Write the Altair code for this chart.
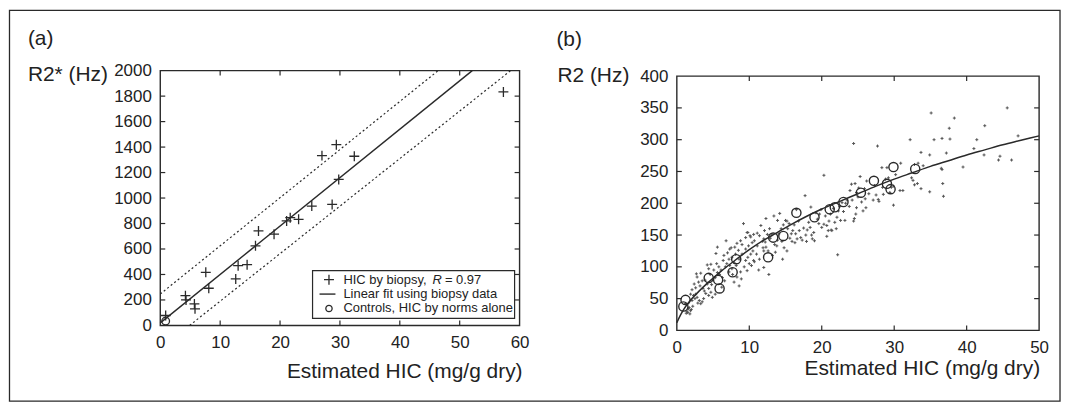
import altair as alt
import pandas as pd

# ---------------- Panel (a) data ----------------
a_biopsy_hic = [0.9, 4.2, 4.3, 5.7, 5.8, 7.6, 8.1, 12.6, 13.0, 14.5, 15.9, 16.4, 19.0,
                21.1, 21.7, 23.1, 25.3, 27.0, 28.7, 29.4, 29.8, 32.4, 57.3]
a_biopsy_r2s = [78, 234, 200, 169, 130, 417, 292, 365, 469, 477, 625, 742, 716,
                820, 846, 833, 937, 1333, 950, 1419, 1146, 1328, 1833]
a_control_hic = [0.9]
a_control_r2s = [34]
a_fit_hic = [0, 52.1]
a_fit_r2s = [20, 2000]
a_upper_hic = [0, 46.4]
a_upper_r2s = [247, 2000]
a_lower_hic = [4.9, 58.5]
a_lower_r2s = [0, 2000]
a_xticks = [0, 10, 20, 30, 40, 50, 60]
a_yticks = [0, 200, 400, 600, 800, 1000, 1200, 1400, 1600, 1800, 2000]

# ---------------- Panel (b) data ----------------
b_dot_hic = [
    1.2, 1.5, 1.6, 1.7, 1.8, 1.9, 1.4, 1.3, 2.0, 2.2, 1.9, 2.1, 2.1, 2.4, 2.6, 2.6, 2.8, 2.7, 2.8, 2.5, 2.3, 2.9,
    3.1, 3.3, 3.5, 3.7, 3.3, 3.5, 3.9, 4.2, 4.4, 4.4, 4.7, 4.9, 4.2, 4.4, 4.7, 3.0, 3.2, 3.8, 4.0, 3.6, 4.6, 4.8,
    5.3, 5.3, 5.6, 5.4, 5.6, 5.5, 5.8, 5.9, 6.2, 6.3, 6.6, 6.7, 6.9, 6.8, 6.4, 6.1, 5.1, 6.5,
    7.2, 7.6, 7.3, 7.9, 7.2, 7.6, 8.1, 8.5, 8.0, 8.3, 8.8, 7.9, 8.3, 8.8, 8.9, 8.6, 7.3, 7.0, 7.5, 8.2, 8.6, 7.7,
    9.0, 9.5, 9.9, 10.4, 10.6, 10.1, 9.5, 9.7, 9.2, 9.7, 10.3, 10.6, 9.8, 10.2, 10.7, 10.2, 9.8, 9.5, 10.0, 10.7,
    9.3, 9.0, 10.5, 11.0,
    11.1, 11.4, 12.1, 12.5, 12.9, 12.0, 12.2, 12.3, 12.0, 11.1, 11.4, 12.0, 12.7, 12.3, 11.6, 11.8, 12.6, 11.3,
    11.9, 12.8,
    13.4, 13.9, 13.9, 13.8, 14.6, 14.8, 15.2, 14.2, 15.0, 15.2, 14.7, 13.2, 13.6, 14.1, 14.4, 13.1, 14.5, 13.5,
    16.2, 16.9, 16.0, 16.4, 16.6, 17.1, 17.3, 15.6, 15.8, 15.9, 15.5, 16.5, 17.5, 16.3, 15.3, 16.8,
    17.7, 18.0, 18.4, 18.9, 18.7, 19.0, 18.5, 19.2, 17.8, 18.2, 17.9, 18.6, 19.4,
    20.0, 20.9, 21.3, 20.3, 20.3, 20.7, 20.7, 21.4, 19.7, 19.9, 20.5, 21.0, 19.6,
    22.2, 22.1, 22.6, 23.2, 22.3, 23.0, 22.8, 21.6, 21.8, 22.5, 21.2, 22.0,
    24.4, 24.1, 24.6, 25.3, 23.9, 25.1, 24.8, 24.5, 24.7, 24.8, 23.5, 24.2, 23.8, 24.4, 23.3,
    26.2, 26.0, 25.7, 26.1, 25.5, 25.9, 26.5, 25.0,
    27.7, 27.1, 27.9, 27.8, 28.5, 28.3, 29.0, 28.4, 27.3, 27.5, 28.8,
    29.4, 29.6, 29.9, 29.9, 30.8, 31.2, 30.9, 30.2, 29.2,
    32.2, 32.8, 32.4, 32.6, 32.8, 33.7, 33.7, 33.3, 34.0, 34.9, 34.9, 33.2,
    35.1, 35.5, 36.6, 37.7, 38.3, 37.6, 37.2, 36.5, 36.6, 36.7, 36.8, 39.5,
    41.0, 41.4, 42.5, 42.4, 44.6, 44.4, 45.6, 46.2, 47.1]
b_dot_r2 = [
    42, 28, 34, 36, 26, 31, 30, 27, 33, 38, 57, 64, 47, 73, 67, 57, 52, 89, 84, 50, 55, 43,
    47, 42, 45, 50, 90, 78, 79, 73, 66, 55, 60, 52, 103, 97, 104, 76, 70, 62, 58, 66, 88, 72,
    57, 83, 91, 121, 131, 105, 100, 88, 68, 83, 78, 100, 105, 141, 110, 95, 95, 118,
    92, 97, 102, 107, 112, 115, 120, 126, 131, 137, 141, 76, 84, 92, 81, 70, 128, 122, 130, 102, 112, 88,
    120, 128, 133, 138, 151, 149, 146, 154, 168, 94, 102, 110, 154, 147, 141, 120, 115, 110, 105, 108,
    100, 135, 125, 120,
    153, 149, 157, 151, 145, 144, 139, 131, 125, 133, 112, 99, 88, 176, 165, 140, 125, 95,
    130, 160,
    180, 173, 142, 133, 112, 130, 125, 184, 173, 172, 166, 118, 123, 152, 160, 150, 140, 135,
    166, 157, 157, 152, 144, 146, 142, 145, 152, 140, 168, 190, 161, 138, 160, 172,
    212, 158, 162, 154, 144, 141, 194, 185, 150, 170, 140, 150, 175,
    162, 157, 158, 244, 167, 165, 148, 157, 183, 190, 180, 172, 168,
    119, 178, 173, 173, 188, 187, 201, 192, 170, 195, 183, 160,
    294, 230, 231, 242, 220, 224, 217, 176, 183, 193, 205, 205, 195, 172, 200,
    235, 207, 188, 193, 202, 223, 215, 210,
    290, 205, 203, 206, 214, 256, 256, 225, 228, 213, 238,
    217, 225, 227, 197, 220, 220, 263, 245, 240,
    300, 261, 240, 236, 229, 223, 280, 263, 259, 276, 218, 231,
    342, 300, 302, 301, 334, 318, 279, 255, 253, 231, 211, 257,
    286, 300, 322, 276, 274, 268, 350, 268, 306]
b_control_hic = [0.9, 1.2, 4.4, 5.7, 5.9, 7.7, 8.2, 12.6, 13.3, 14.7, 16.5, 19.0, 21.1,
                 21.8, 23.0, 25.4, 27.2, 29.0, 29.5, 29.9, 32.9]
b_control_r2 = [37.6, 48, 82.6, 79.5, 66, 91.5, 112, 115, 146, 148.6, 185, 178, 190.6,
                193.7, 202, 216.6, 235.3, 230.6, 222.2, 257, 254]
b_curve_hic = [0, 0.5, 1, 1.5, 2, 3, 4, 5, 6, 8, 10, 12, 14, 16, 18, 20, 22.5, 25, 27.5,
               30, 32.5, 35, 37.5, 40, 42.5, 45, 47.5, 50]
b_curve_r2 = [12, 24, 34, 42, 49, 61, 72, 82, 92, 110, 127, 142, 155, 168, 180, 191, 203,
              215, 227, 238, 248, 258, 267, 276, 284, 292, 299, 306]
b_xticks = [0, 10, 20, 30, 40, 50]
b_yticks = [0, 50, 100, 150, 200, 250, 300, 350, 400]

# ---------------- style ----------------
FONT = "Liberation Sans"
TXT = "#222222"
INK = "#2a2a2a"
PLUS = "M-1,0L1,0M0,-1L0,1"
WA, HA = 361, 256
WB, HB, B_TOP = 364, 261, 5.5
GAP = 158
TICK = 5

one = pd.DataFrame({"k": [0]})


def axis(values):
    return alt.Axis(values=values, format="d", title=None, grid=False, ticks=False,
                    tickSize=0, domain=False, labelFont=FONT, labelFontSize=17,
                    labelColor=TXT, labelPadding=9, labelFlush=False, labelOverlap=False)


def txt(text, x, y, size=21, align="left", style="normal"):
    return alt.Chart(one).mark_text(text=text, align=align, baseline="middle", font=FONT,
                                    fontSize=size, color=TXT, fontStyle=style).encode(
        x=alt.value(x), y=alt.value(y))


def box(x, x2, y, y2, sw):
    return alt.Chart(one).mark_rect(fill="transparent", stroke=INK, strokeWidth=sw).encode(
        x=alt.value(x), x2=alt.value(x2), y=alt.value(y), y2=alt.value(y2))


def ticks(xs, ys, xax, yax, xt, yt, W, top, bottom):
    dx = pd.DataFrame({"v": xt[1:-1]})
    dy = pd.DataFrame({"v": yt[1:-1]})
    st = dict(color=INK, strokeWidth=1.2)
    X = alt.X("v:Q", scale=xs, axis=xax)
    Y = alt.Y("v:Q", scale=ys, axis=yax)
    return [
        alt.Chart(dx).mark_rule(**st).encode(x=X, y=alt.value(bottom), y2=alt.value(bottom - TICK)),
        alt.Chart(dx).mark_rule(**st).encode(x=X, y=alt.value(top), y2=alt.value(top + TICK)),
        alt.Chart(dy).mark_rule(**st).encode(y=Y, x=alt.value(0), x2=alt.value(TICK)),
        alt.Chart(dy).mark_rule(**st).encode(y=Y, x=alt.value(W - TICK), x2=alt.value(W)),
    ]


# ---------------- Panel (a) ----------------
xs_a = alt.Scale(domain=[0, 60], nice=False, zero=False)
ys_a = alt.Scale(domain=[0, 2000], nice=False, zero=False)
xax_a = axis(a_xticks)
yax_a = axis(a_yticks)


def enc_a(ch):
    return ch.encode(x=alt.X("hic:Q", scale=xs_a, axis=xax_a),
                     y=alt.Y("r2:Q", scale=ys_a, axis=yax_a))


df_a_bio = pd.DataFrame({"hic": a_biopsy_hic, "r2": a_biopsy_r2s})
df_a_ctl = pd.DataFrame({"hic": a_control_hic, "r2": a_control_r2s})
df_a_fit = pd.DataFrame({"hic": a_fit_hic, "r2": a_fit_r2s})
df_a_up = pd.DataFrame({"hic": a_upper_hic, "r2": a_upper_r2s})
df_a_lo = pd.DataFrame({"hic": a_lower_hic, "r2": a_lower_r2s})

BORDER_R = WA + GAP + WB + 21
layers_a = [
    box(-151.5, BORDER_R, -60.5, 332, 1.3),
    box(0, WA, 0, HA, 1.4),
] + ticks(xs_a, ys_a, xax_a, yax_a, a_xticks, a_yticks, WA, 0, HA) + [
    enc_a(alt.Chart(df_a_up).mark_line(color=INK, strokeWidth=1.2, strokeDash=[2, 2.5])),
    enc_a(alt.Chart(df_a_lo).mark_line(color=INK, strokeWidth=1.2, strokeDash=[2, 2.5])),
    enc_a(alt.Chart(df_a_fit).mark_line(color=INK, strokeWidth=1.4)),
    enc_a(alt.Chart(df_a_bio).mark_point(shape=PLUS, size=100, color=INK, strokeWidth=1.3,
                                         filled=False, opacity=1)),
    enc_a(alt.Chart(df_a_ctl).mark_point(shape="circle", size=60, color=INK, strokeWidth=1.3,
                                         filled=False, opacity=1)),
    # legend
    box(153, 356, 201, 249, 1.2),
    alt.Chart(one).mark_point(shape=PLUS, size=100, color=INK, strokeWidth=1.3, filled=False,
                              opacity=1).encode(x=alt.value(169.5), y=alt.value(210)),
    alt.Chart(one).mark_rule(color=INK, strokeWidth=1.4).encode(
        x=alt.value(160), x2=alt.value(176), y=alt.value(224.5)),
    alt.Chart(one).mark_point(shape="circle", size=40, color=INK, strokeWidth=1.3, filled=False,
                              opacity=1).encode(x=alt.value(169.5), y=alt.value(239)),
    txt("HIC by biopsy,", 184, 210, 13),
    txt("R", 273.5, 210, 13, style="italic"),
    txt("= 0.97", 286, 210, 13),
    txt("Linear fit using biopsy data", 184, 224.5, 13),
    txt("Controls, HIC by norms alone", 184, 239, 13),
    # titles
    txt("(a)", -133, -32),
    txt("R2* (Hz)", -133, 4),
    txt("Estimated HIC (mg/g dry)", WA + 3, 303, align="right"),
]
panel_a = alt.layer(*layers_a).properties(width=WA, height=HA)

# ---------------- Panel (b) ----------------
xs_b = alt.Scale(domain=[0, 50], nice=False, zero=False)
ys_b = alt.Scale(domain=[0, 400], range=[HB, B_TOP], nice=False, zero=False)
xax_b = axis(b_xticks)
yax_b = axis(b_yticks)


def enc_b(ch):
    return ch.encode(x=alt.X("hic:Q", scale=xs_b, axis=xax_b),
                     y=alt.Y("r2:Q", scale=ys_b, axis=yax_b))


df_b_dot = pd.DataFrame({"hic": b_dot_hic, "r2": b_dot_r2})
df_b_ctl = pd.DataFrame({"hic": b_control_hic, "r2": b_control_r2})
df_b_cur = pd.DataFrame({"hic": b_curve_hic, "r2": b_curve_r2})

layers_b = [
    box(0, WB, B_TOP, HB, 1.4),
] + ticks(xs_b, ys_b, xax_b, yax_b, b_xticks, b_yticks, WB, B_TOP, HB) + [
    enc_b(alt.Chart(df_b_dot).mark_point(shape=PLUS, size=9, color="#555555", strokeWidth=1,
                                         filled=False, opacity=1)),
    enc_b(alt.Chart(df_b_cur).mark_line(color=INK, strokeWidth=1.5, interpolate="monotone")),
    enc_b(alt.Chart(df_b_ctl).mark_point(shape="circle", size=85, color=INK, strokeWidth=1.4,
                                         filled=False, opacity=1)),
    txt("(b)", -121, -31),
    txt("R2 (Hz)", -120, 5),
    txt("Estimated HIC (mg/g dry)", WB + 1, 300, align="right"),
]
panel_b = alt.layer(*layers_b).properties(width=WB, height=HB)

chart = alt.hconcat(panel_a, panel_b, spacing=GAP, bounds="flush").properties(
    padding=0, background="white"
).configure_view(stroke="transparent")

chart.save("out.html", embed_options={"renderer": "svg", "actions": False})
